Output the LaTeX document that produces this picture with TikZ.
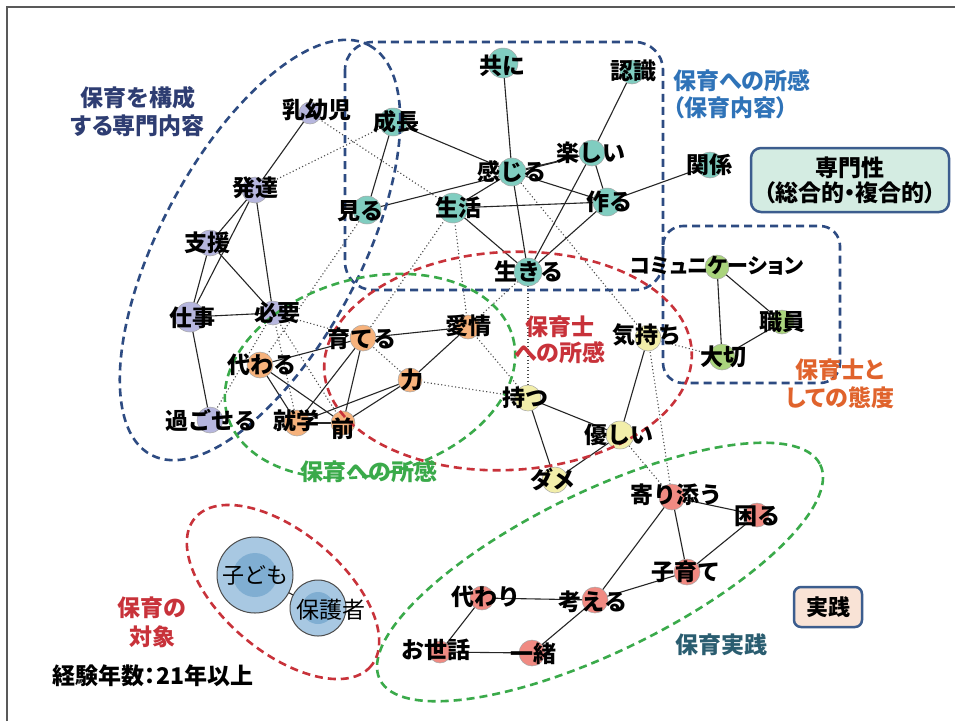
\documentclass[tikz,border=0pt]{standalone}
\usepackage{fontspec}
\newfontfamily\jp[RawFeature=+palt]{Noto Sans CJK JP}
\newfontfamily\jpn{Noto Sans CJK JP}
\definecolor{tealc}{RGB}{128,205,192}
\definecolor{purc}{RGB}{182,182,222}
\definecolor{orac}{RGB}{246,178,124}
\definecolor{yelc}{RGB}{242,238,170}
\definecolor{grec}{RGB}{170,212,125}
\definecolor{redc}{RGB}{240,138,130}
\definecolor{navyc}{RGB}{45,75,130}
\definecolor{dred}{RGB}{200,50,58}
\definecolor{dgreen}{RGB}{58,170,74}
\definecolor{lblue}{RGB}{47,115,184}
\definecolor{orng}{RGB}{224,99,44}
\definecolor{dteal}{RGB}{42,93,112}
\definecolor{navyt}{RGB}{46,61,114}
\definecolor{mint}{RGB}{212,236,226}
\definecolor{peach}{RGB}{249,227,214}
\definecolor{boxnavy}{RGB}{60,93,142}
\definecolor{bout}{RGB}{168,200,226}
\definecolor{bin}{RGB}{128,174,210}
\begin{document}
\begin{tikzpicture}[x=1pt,y=-1pt,
 solidE/.style={black!85, line width=1.1pt},
 dotE/.style={black!70, line width=1.1pt, dash pattern=on 1.1pt off 2.4pt},
 dot/.style={circle, draw=black!35, line width=0.5pt, inner sep=0pt},
 lab/.style={inner sep=0pt, font=\jpn\bfseries\fontsize{23}{25}\selectfont, text=black},
 grp/.style={line width=2.6pt, dash pattern=on 8pt off 5pt},
 glab/.style={inner sep=0pt, align=center, font=\jp\bfseries\fontsize{23}{28}\selectfont},
]
\useasboundingbox (0,0) rectangle (955,721);
\fill[white] (0,0) rectangle (955,721);
\draw[black!65, line width=1.5pt] (7,721) -- (7,7) -- (955,7);

% node centres
\coordinate (nyu) at (310,113);
\coordinate (hat) at (255,190);
\coordinate (shi) at (210,243);
\coordinate (shg) at (190,317);
\coordinate (hit) at (273,313);
\coordinate (sug) at (210,420);
\coordinate (tomo) at (503,63);
\coordinate (nin) at (632,72);
\coordinate (sei) at (393,122);
\coordinate (kan) at (512,172);
\coordinate (tan) at (592,153);
\coordinate (kank) at (710,165);
\coordinate (miru) at (367,210);
\coordinate (seik) at (453,208);
\coordinate (tsuk) at (607,202);
\coordinate (iki) at (528,272);
\coordinate (soda) at (363,338);
\coordinate (aij) at (468,327);
\coordinate (kaw) at (260,365);
\coordinate (chik) at (410,380);
\coordinate (shug) at (297,423);
\coordinate (mae) at (343,423);
\coordinate (kimo) at (648,338);
\coordinate (mots) at (528,398);
\coordinate (yasa) at (620,435);
\coordinate (dame) at (555,480);
\coordinate (comm) at (717,267);
\coordinate (shok) at (782,322);
\coordinate (tais) at (722,357);
\coordinate (yori) at (672,497);
\coordinate (koma) at (757,515);
\coordinate (kosod) at (687,572);
\coordinate (kawari) at (482,598);
\coordinate (kang) at (595,600);
\coordinate (osew) at (440,652);
\coordinate (issho) at (532,653);
\coordinate (kodo) at (255,575);
\coordinate (hogo) at (318,608);

% dotted edges
\foreach \a/\b in {nyu/seik, hat/sei, miru/kaw, hit/soda, hit/shug, hit/mae, hit/sug,
  seik/soda, seik/aij, iki/aij, iki/mots, soda/chik, chik/mots, aij/mots,
  kan/kimo, kimo/yori, yasa/yori, kimo/tais}
  \draw[dotE] (\a) -- (\b);

% solid edges
\foreach \a/\b in {nyu/hat, hat/shi, hat/shg, hat/hit, shi/shg, shi/hit, shg/hit, shg/sug,
  sei/miru, sei/kan, kan/tsuk, miru/tan, kan/tan, seik/kan, tomo/kan, kan/iki,
  nin/tan, tan/iki, tan/tsuk, seik/tsuk, tsuk/kank, tsuk/iki, seik/iki,
  kaw/soda, soda/aij, aij/chik, chik/shug, chik/mae, soda/shug, soda/mae,
  kaw/shug, kaw/mae, shug/mae,
  mots/yasa, mots/dame, yasa/dame, kimo/yasa,
  comm/shok, comm/tais, shok/tais,
  yori/koma, yori/kosod, yori/kang, koma/kosod, kosod/kang, kawari/kang,
  kang/issho, osew/issho, osew/kawari, kodo/hogo}
  \draw[solidE] (\a) -- (\b);

% circles
\foreach \n/\c/\d in {nyu/purc/22, hat/purc/26, shi/purc/26, shg/purc/30, hit/purc/24, sug/purc/26,
  tomo/tealc/30, nin/tealc/24, sei/tealc/28, kan/tealc/28, tan/tealc/26, kank/tealc/26,
  miru/tealc/28, seik/tealc/30, tsuk/tealc/28, iki/tealc/28,
  soda/orac/26, aij/orac/24, kaw/orac/26, chik/orac/24, shug/orac/26, mae/orac/24,
  kimo/yelc/26, mots/yelc/26, yasa/yelc/28, dame/yelc/26,
  comm/grec/24, shok/grec/24, tais/grec/26,
  yori/redc/26, koma/redc/24, kosod/redc/26, kawari/redc/24, kang/redc/26, osew/redc/22, issho/redc/26}
  \node[dot, fill=\c, minimum size=\d pt] (c-\n) at (\n) {};

\node[circle, draw=black!70, line width=1pt, fill=bout, minimum size=76pt, inner sep=0pt] (c-kodo) at (kodo) {};
\node[circle, fill=bin, minimum size=44pt, inner sep=0pt] (i-kodo) at (kodo) {};
\node[circle, draw=black!70, line width=1pt, fill=bout, minimum size=56pt, inner sep=0pt] (c-hogo) at (hogo) {};
\node[circle, fill=bin, minimum size=32pt, inner sep=0pt] (i-hogo) at (hogo) {};

% group outlines
\draw[grp, navyc, rotate around={62:(260,250)}] (260,250) ellipse (232 and 100);
\draw[grp, navyc, rounded corners=28pt] (345,42) rectangle (663,290);
\draw[grp, navyc, rounded corners=20pt] (663,226) rectangle (840,383);
\draw[grp, dred, rotate around={3:(508,361)}] (508,361) ellipse (184 and 109);
\draw[grp, dgreen, rotate around={15:(370,376)}] (370,376) ellipse (148 and 98);
\draw[grp, dgreen, rotate around={26:(600,572)}] (600,572) ellipse (245 and 80);
\draw[grp, dred, rotate around={-40:(283,592)}] (283,592) ellipse (115 and 60);

% node labels
\node[lab] (l-nyu) at (317,110) {乳幼児};
\node[lab] (l-hat) at (255,188) {発達};
\node[lab] (l-shi) at (207,243) {支援};
\node[lab] (l-shg) at (192,318) {仕事};
\node[lab] (l-hit) at (277,313) {必要};
\node[lab] (l-sug) at (211,420) {過ごせる};
\node[lab] (l-tomo) at (502,66) {共に};
\node[lab] (l-nin) at (633,71) {認識};
\node[lab] (l-sei) at (396,122) {成長};
\node[lab] (l-kan) at (512,171) {感じる};
\node[lab] (l-tan) at (591,153) {楽しい};
\node[lab] (l-kank) at (709,165) {関係};
\node[lab] (l-miru) at (360,211) {見る};
\node[lab] (l-seik) at (458,208) {生活};
\node[lab] (l-tsuk) at (609,202) {作る};
\node[lab] (l-iki) at (529,271) {生きる};
\node[lab] (l-soda) at (362,339) {育てる};
\node[lab] (l-aij) at (468,326) {愛情};
\node[lab] (l-kaw) at (262,365) {代わる};
\node[lab] (l-chik) at (412,380) {力};
\node[lab] (l-shug) at (296,421) {就学};
\node[lab] (l-mae) at (343,429) {前};
\node[lab] (l-kimo) at (647,335) {気持ち};
\node[lab] (l-mots) at (525,398) {持つ};
\node[lab] (l-yasa) at (619,435) {優しい};
\node[lab] (l-dame) at (553,480) {ダメ};
\node[lab, font=\jp\bfseries\fontsize{21}{23}\selectfont] (l-comm) at (717,266) {コミュニケーション};
\node[lab] (l-shok) at (782,322) {職員};
\node[lab] (l-tais) at (723,357) {大切};
\node[lab] (l-yori) at (676,495) {寄り添う};
\node[lab] (l-koma) at (757,516) {困る};
\node[lab] (l-kosod) at (686,572) {子育て};
\node[lab] (l-kawari) at (486,597) {代わり};
\node[lab] (l-kang) at (593,602) {考える};
\node[lab] (l-osew) at (436,650) {お世話};
\node[lab] (l-issho) at (533,654) {一緒};
\node[lab, font=\jpn\fontsize{22}{24}\selectfont] (l-kodo) at (255,575) {子ども};
\node[lab, font=\jpn\fontsize{23}{25}\selectfont] (l-hogo) at (331,610) {保護者};

% group labels
\node[glab, text=navyt] (g1) at (138,112) {保育を構成\\する専門内容};
\node[glab, text=lblue, align=left, anchor=west, font=\jp\bfseries\fontsize{23}{27}\selectfont] (g2) at (673,94) {保育への所感\\（保育内容）};
\node[draw=boxnavy, fill=mint, line width=2.5pt, rounded corners=10pt, minimum width=198pt, minimum height=64pt,
  align=center, inner sep=0pt, font=\jp\bfseries\fontsize{23}{25}\selectfont] (g3) at (850,180) {専門性\\（総合的・複合的）};
\node[glab, text=dred, font=\jp\bfseries\fontsize{23}{26}\selectfont] (g4) at (560,340) {保育士\\への所感};
\node[glab, text=orng] (g5) at (840,384) {保育士と\\しての態度};
\node[glab, text=dgreen] (g6) at (369,472) {保育への所感};
\node[glab, text=dteal] (g7) at (721,645) {保育実践};
\node[draw=boxnavy, fill=peach, line width=2.5pt, rounded corners=7pt, minimum width=68pt, minimum height=40pt,
  inner sep=0pt, font=\jp\bfseries\fontsize{22}{24}\selectfont] (g8) at (828,607) {実践};
\node[glab, text=dred, font=\jp\bfseries\fontsize{23}{29}\selectfont] (g9) at (152,622) {保育の\\対象};
\node[glab, text=black] (g10) at (153,676) {経験年数：21年以上};
\end{tikzpicture}
\end{document}
